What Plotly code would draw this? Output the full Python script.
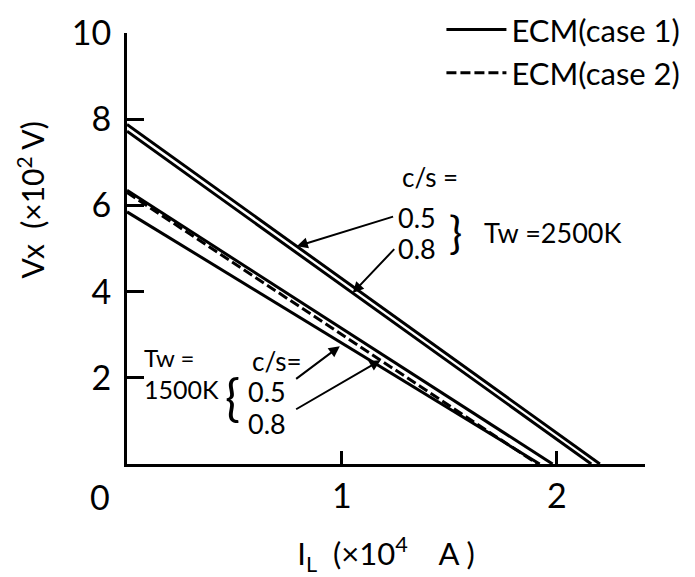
import numpy as np
import plotly.graph_objects as go

# ---- data (I_L in 1e4 A, Vx in 1e2 V) ----
il_2500_c05 = [0.0, 2.20]
vx_2500_c05 = [7.88, 0.0]
il_2500_c08 = [0.0, 2.16]
vx_2500_c08 = [7.72, 0.0]
il_1500_c05 = [0.0, 1.98]
vx_1500_c05 = [6.35, 0.0]
il_1500_c08 = [0.0, 1.92]
vx_1500_c08 = [5.85, 0.0]
il_1500_case2 = [0.0, 1.91]
vx_1500_case2 = [6.30, 0.0]

x_ticks = [1, 2]
y_ticks = [2, 4, 6, 8, 10]

FONT = "Lato"
LW = 3

fig = go.Figure()
solid = dict(color="black", width=LW)
dashed = dict(color="black", width=LW, dash="10px,4px")

fig.add_trace(go.Scatter(x=il_2500_c05, y=vx_2500_c05, mode="lines", line=solid,
                         name="ECM(case 1)", showlegend=True))
fig.add_trace(go.Scatter(x=il_1500_case2, y=vx_1500_case2, mode="lines", line=dashed,
                         name="ECM(case 2)", showlegend=True))
fig.add_trace(go.Scatter(x=il_2500_c08, y=vx_2500_c08, mode="lines", line=solid, showlegend=False))
fig.add_trace(go.Scatter(x=il_1500_c05, y=vx_1500_c05, mode="lines", line=solid, showlegend=False))
fig.add_trace(go.Scatter(x=il_1500_c08, y=vx_1500_c08, mode="lines", line=solid, showlegend=False))


def on_line(xs, ys, x):
    return float(np.interp(x, xs, ys))


ann = []
def txt(x, y, s, size=26, xanchor="left"):
    ann.append(dict(x=x, y=y, xref="x", yref="y", text=s, showarrow=False,
                    xanchor=xanchor, yanchor="middle",
                    font=dict(family=FONT, size=size, color="black")))

# 2500 K group labels
txt(1.27, 6.65, "c/s =", 26)
txt(1.25, 5.72, "0.5", 27)
txt(1.25, 5.00, "0.8", 27)
txt(1.53, 5.38, "}", 44, "center")
txt(1.65, 5.38, "Tw =2500K", 27)
# 1500 K group labels
txt(0.07, 2.48, "Tw =", 24)
txt(0.07, 1.75, "1500K", 25)
txt(0.49, 1.55, "{", 50, "center")
txt(0.57, 2.40, "c/s=", 26)
txt(0.555, 1.68, "0.5", 27)
txt(0.555, 0.95, "0.8", 27)

# arrows
def arrow(tx, ty, ax, ay):
    ann.append(dict(x=tx, y=ty, ax=ax, ay=ay, xref="x", yref="y", axref="x", ayref="y",
                    text="", showarrow=True, arrowhead=2, arrowsize=1.1, arrowwidth=2,
                    arrowcolor="black"))

arrow(0.79, on_line(il_2500_c05, vx_2500_c05, 0.79), 1.245, 5.75)
arrow(1.05, on_line(il_2500_c08, vx_2500_c08, 1.05), 1.25, 5.02)
arrow(0.99, on_line(il_1500_c08, vx_1500_c08, 0.99) - 0.1, 0.78, 1.95)
arrow(1.18, on_line(il_1500_case2, vx_1500_case2, 1.18), 0.78, 1.25)

# origin label
ann.append(dict(x=-0.052, y=-0.075, xref="paper", yref="paper", text="0", showarrow=False,
                xanchor="center", yanchor="middle",
                font=dict(family=FONT, size=34, color="black")))
# y-axis title
ann.append(dict(x=-0.186, y=0.613, xref="paper", yref="paper",
                text="Vx  (×10<sup>2</sup> V)", textangle=-90, showarrow=False,
                xanchor="center", yanchor="middle",
                font=dict(family=FONT, size=30, color="black")))

fig.update_layout(
    width=695, height=577,
    margin=dict(l=127, r=50, t=33, b=113, autoexpand=False),
    paper_bgcolor="white", plot_bgcolor="white",
    font=dict(family=FONT, color="black"),
    annotations=ann,
    legend=dict(x=0.607, y=1.07, xanchor="left", yanchor="top",
                font=dict(family=FONT, size=31, color="black"),
                bgcolor="rgba(0,0,0,0)", tracegroupgap=0, itemwidth=60),
    xaxis=dict(range=[0, 2.41], showline=True, linewidth=LW, linecolor="black",
               ticks="inside", ticklen=13, tickwidth=2.5, tickcolor="black",
               tickvals=x_ticks, ticktext=[str(v) for v in x_ticks],
               tickfont=dict(family=FONT, size=34), ticklabelstandoff=0,
               showgrid=False, zeroline=False,
               title=dict(text="I<sub>L</sub>  (×10<sup>4</sup>    A )",
                          font=dict(family=FONT, size=31), standoff=32)),
    yaxis=dict(range=[0, 10], showline=True, linewidth=LW, linecolor="black",
               ticks="inside", ticklen=17, tickwidth=2.5, tickcolor="black",
               tickvals=y_ticks, ticktext=[str(v) for v in y_ticks],
               tickfont=dict(family=FONT, size=34), ticklabelstandoff=6,
               showgrid=False, zeroline=False),
)

fig.write_html("out.html", config={"displayModeBar": False},
               post_script="document.body.style.margin='0';")
